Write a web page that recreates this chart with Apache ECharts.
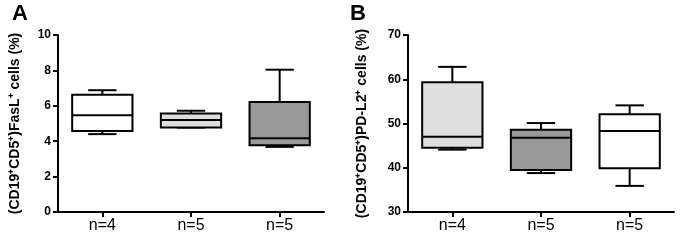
<!DOCTYPE html>
<html>
<head>
<meta charset="utf-8">
<script src="https://cdn.jsdelivr.net/npm/echarts@6/dist/echarts.min.js"></script>
<style>
  html, body { margin: 0; padding: 0; background: #fff; }
  #chart { width: 680px; height: 240px; }
</style>
</head>
<body>
<div id="chart"></div>
<script>
// groups on the x axis
const categories = ["n=4", "n=5", "n=5"];
// [min, q1, median, q3, max] per group
const fasLData = [
  [4.4, 4.58, 5.46, 6.62, 6.88],
  [4.77, 4.78, 5.2, 5.57, 5.72],
  [3.68, 3.77, 4.16, 6.21, 8.04]
];
const pdl2Data = [
  [44.1, 44.5, 47.0, 59.3, 62.8],
  [38.8, 39.5, 46.8, 48.6, 50.1],
  [35.9, 39.9, 48.3, 52.1, 54.1]
];
const fasLColors = ["#ffffff", "#dedede", "#999999"];
const pdl2Colors = ["#dedede", "#999999", "#ffffff"];
const fasLTicks = [0, 10, 2];  // min, max, interval
const pdl2Ticks = [30, 70, 10];

const myChart = echarts.init(document.getElementById("chart"), null, { renderer: "canvas" });

function boxItem(colors) {
  return function (params, api) {
    const idx = api.value(0);
    const band = api.size([1, 0])[0];
    const half = band * 0.34;
    const cap = band * 0.16;
    const pMin = api.coord([idx, api.value(1)]);
    const pQ1 = api.coord([idx, api.value(2)]);
    const pMed = api.coord([idx, api.value(3)]);
    const pQ3 = api.coord([idx, api.value(4)]);
    const pMax = api.coord([idx, api.value(5)]);
    const x = pMed[0];
    const line = { stroke: "#000", lineWidth: 2 };
    return {
      type: "group",
      children: [
        { type: "line", shape: { x1: x, y1: pMax[1], x2: x, y2: pQ3[1] }, style: line },
        { type: "line", shape: { x1: x - cap, y1: pMax[1], x2: x + cap, y2: pMax[1] }, style: line },
        { type: "line", shape: { x1: x, y1: pMin[1], x2: x, y2: pQ1[1] }, style: line },
        { type: "line", shape: { x1: x - cap, y1: pMin[1], x2: x + cap, y2: pMin[1] }, style: line },
        {
          type: "rect",
          shape: { x: x - half, y: pQ3[1], width: half * 2, height: pQ1[1] - pQ3[1] },
          style: { fill: colors[idx], stroke: "#000", lineWidth: 2 }
        },
        { type: "line", shape: { x1: x - half, y1: pMed[1], x2: x + half, y2: pMed[1] }, style: line }
      ]
    };
  };
}

function toRows(data) {
  return data.map((d, i) => [i].concat(d));
}

const axisLine = { show: true, lineStyle: { color: "#000", width: 2 } };
const axisTick = { show: true, length: 5, lineStyle: { color: "#000", width: 2 } };

function xAxis(gridIndex) {
  return {
    type: "category",
    gridIndex: gridIndex,
    data: categories,
    boundaryGap: true,
    axisLine: axisLine,
    axisTick: { show: true, alignWithLabel: true, length: 5, lineStyle: { color: "#000", width: 2 } },
    axisLabel: { color: "#000", fontSize: 16, fontFamily: "Liberation Sans", margin: 6 },
    splitLine: { show: false }
  };
}

function yAxis(gridIndex, ticks, name, gap) {
  return {
    type: "value",
    gridIndex: gridIndex,
    min: ticks[0],
    max: ticks[1],
    interval: ticks[2],
    name: name,
    nameLocation: "middle",
    nameGap: gap,
    nameTextStyle: { color: "#000", fontSize: 14, fontWeight: "bold", fontFamily: "Liberation Sans" },
    axisLine: axisLine,
    axisTick: axisTick,
    axisLabel: { color: "#000", fontSize: 12, fontWeight: "bold", fontFamily: "Liberation Sans", margin: 7 },
    splitLine: { show: false }
  };
}

const option = {
  animation: false,
  backgroundColor: "#fff",
  title: [
    { text: "A", left: 7, top: -2, textStyle: { fontSize: 22, fontWeight: "bold", color: "#000", fontFamily: "Liberation Sans" } },
    { text: "B", left: 345, top: -2, textStyle: { fontSize: 22, fontWeight: "bold", color: "#000", fontFamily: "Liberation Sans" } }
  ],
  grid: [
    { left: 58, top: 35, width: 266, height: 177 },
    { left: 408, top: 35, width: 266, height: 177 }
  ],
  xAxis: [xAxis(0), xAxis(1)],
  yAxis: [
    yAxis(0, fasLTicks, "(CD19\u207aCD5\u207a)FasL\u207a cells (%)", 36),
    yAxis(1, pdl2Ticks, "(CD19\u207aCD5\u207a)PD-L2\u207a cells (%)", 39)
  ],
  series: [
    {
      type: "custom",
      xAxisIndex: 0,
      yAxisIndex: 0,
      renderItem: boxItem(fasLColors),
      encode: { x: 0, y: [1, 2, 3, 4, 5] },
      data: toRows(fasLData)
    },
    {
      type: "custom",
      xAxisIndex: 1,
      yAxisIndex: 1,
      renderItem: boxItem(pdl2Colors),
      encode: { x: 0, y: [1, 2, 3, 4, 5] },
      data: toRows(pdl2Data)
    }
  ]
};

myChart.setOption(option);
</script>
</body>
</html>
